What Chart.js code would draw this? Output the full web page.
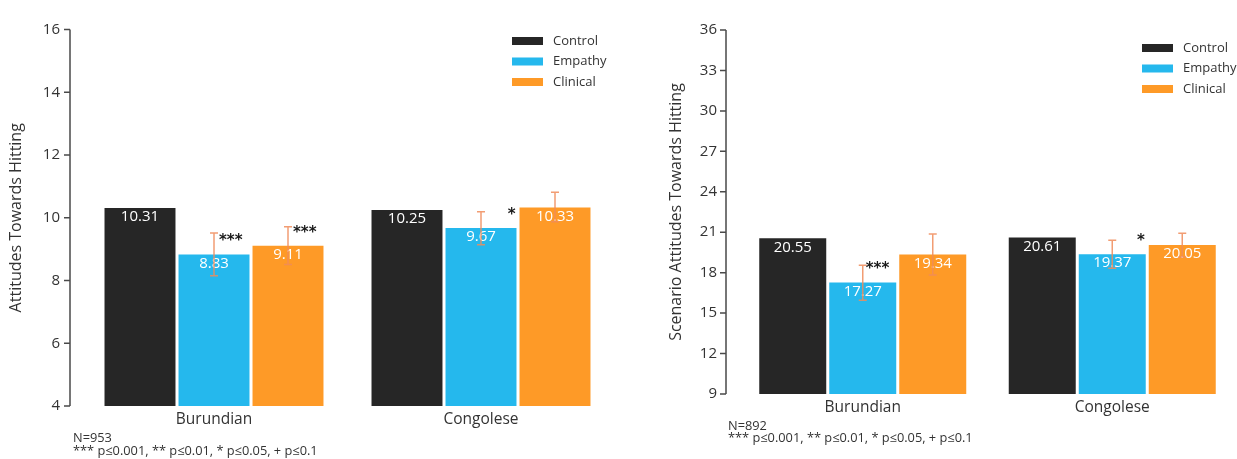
<!DOCTYPE html>
<html>
<head>
<meta charset="utf-8">
<script src="https://cdn.jsdelivr.net/npm/chart.js@4.4.1/dist/chart.umd.min.js"></script>
<style>
  html, body { margin: 0; padding: 0; background: #ffffff; }
  #wrap { position: relative; width: 1237px; height: 459px; overflow: hidden; }
  #wrap canvas { position: absolute; top: 0; }
  #attChart { left: 0; }
  #scnChart { left: 640px; }
</style>
</head>
<body>
<div id="wrap">
  <canvas id="attChart" width="640" height="459"></canvas>
  <canvas id="scnChart" width="597" height="459"></canvas>
</div>
<script>
// ---- data ----
const categories = ['Burundian', 'Congolese'];
const seriesNames = ['Control', 'Empathy', 'Clinical'];
const seriesColors = ['#262626', '#25b8ed', '#fe9a27'];

// Attitudes Towards Hitting (N=953)
const attControl = [10.31, 10.25];
const attEmpathy = [8.83, 9.67];
const attClinical = [9.11, 10.33];
const attEmpathyLow = [8.15, 9.14];
const attEmpathyHigh = [9.51, 10.19];
const attClinicalLow = [8.51, 9.87];
const attClinicalHigh = [9.71, 10.81];
const attEmpathySig = ['***', '*'];
const attClinicalSig = ['***', ''];
const attAxis = { min: 4, max: 16, step: 2 };
const attNote = ['N=953', '*** p\u22640.001, ** p\u22640.01, * p\u22640.05, + p\u22640.1'];

// Scenario Attitudes Towards Hitting (N=892)
const scnControl = [20.55, 20.61];
const scnEmpathy = [17.27, 19.37];
const scnClinical = [19.34, 20.05];
const scnEmpathyLow = [15.95, 18.32];
const scnEmpathyHigh = [18.55, 20.40];
const scnClinicalLow = [17.82, 19.17];
const scnClinicalHigh = [20.86, 20.93];
const scnEmpathySig = ['***', '*'];
const scnClinicalSig = ['', ''];
const scnAxis = { min: 9, max: 36, step: 3 };
const scnNote = ['N=892', '*** p\u22640.001, ** p\u22640.01, * p\u22640.05, + p\u22640.1'];

const FONT = '"Open Sans", Lato, sans-serif';
const STAR_FONT = 'bold 15px "DejaVu Sans", sans-serif';
const TEXT = '#333333';

// Draws the detached y-axis line, value labels, error bars, stars, legend and footnote.
const decorations = {
  id: 'decorations',
  afterDatasetsDraw(chart, args, opts) {
    const ctx = chart.ctx;
    const area = chart.chartArea;
    const y = chart.scales.y;
    ctx.save();

    // y-axis line with outward tick marks
    const ax = area.left - opts.axisGap;
    ctx.strokeStyle = '#4a4a4a';
    ctx.lineWidth = 1.5;
    ctx.beginPath();
    ctx.moveTo(ax, y.getPixelForValue(y.max));
    ctx.lineTo(ax, y.getPixelForValue(y.min));
    y.ticks.forEach(t => {
      const py = y.getPixelForValue(t.value);
      ctx.moveTo(ax - 6, py);
      ctx.lineTo(ax, py);
    });
    ctx.stroke();

    chart.data.datasets.forEach((ds, di) => {
      const meta = chart.getDatasetMeta(di);
      meta.data.forEach((bar, i) => {
        const top = bar.y;
        const right = bar.x + bar.width / 2;
        // value label inside the bar
        ctx.fillStyle = '#ffffff';
        ctx.font = '15px ' + FONT;
        ctx.textAlign = 'center';
        ctx.textBaseline = 'middle';
        ctx.fillText(ds.data[i].toFixed(2), bar.x, top + 9);
        // error bar
        if (ds.low && ds.high) {
          const yl = y.getPixelForValue(ds.low[i]);
          const yh = y.getPixelForValue(ds.high[i]);
          ctx.strokeStyle = 'rgba(240, 140, 90, 0.85)';
          ctx.lineWidth = 1.5;
          ctx.beginPath();
          ctx.moveTo(bar.x, yl); ctx.lineTo(bar.x, yh);
          ctx.moveTo(bar.x - 4, yl); ctx.lineTo(bar.x + 4, yl);
          ctx.moveTo(bar.x - 4, yh); ctx.lineTo(bar.x + 4, yh);
          ctx.stroke();
        }
        // significance stars
        if (ds.sig && ds.sig[i]) {
          const s = ds.sig[i];
          ctx.fillStyle = '#1a1a1a';
          ctx.font = STAR_FONT;
          ctx.textAlign = 'right';
          ctx.textBaseline = 'middle';
          ctx.fillText(s, right - 1 - 3 * (s.length - 1), top - 13);
        }
      });
    });

    // legend
    const lg = opts.legend;
    chart.data.datasets.forEach((ds, di) => {
      const cy = lg.y + di * lg.row;
      ctx.fillStyle = ds.backgroundColor;
      ctx.fillRect(lg.x, cy - 4, 31, 8);
      ctx.fillStyle = TEXT;
      ctx.font = '13px ' + FONT;
      ctx.textAlign = 'left';
      ctx.textBaseline = 'middle';
      ctx.fillText(ds.label, lg.x + 41, cy);
    });

    // footnote
    ctx.fillStyle = TEXT;
    ctx.font = '12.8px ' + FONT;
    ctx.textAlign = 'left';
    ctx.textBaseline = 'middle';
    opts.note.forEach((line, k) => {
      ctx.fillText(line, area.left + opts.noteDx, area.bottom + opts.noteDy + k * opts.noteGap);
    });
    ctx.restore();
  }
};

function makeChart(id, cfg) {
  const datasets = [
    { label: seriesNames[0], data: cfg.control, backgroundColor: seriesColors[0] },
    { label: seriesNames[1], data: cfg.empathy, backgroundColor: seriesColors[1],
      low: cfg.empLow, high: cfg.empHigh, sig: cfg.empSig },
    { label: seriesNames[2], data: cfg.clinical, backgroundColor: seriesColors[2],
      low: cfg.cliLow, high: cfg.cliHigh, sig: cfg.cliSig }
  ].map(d => Object.assign(d, {
    borderWidth: 0,
    categoryPercentage: cfg.catPct,
    barPercentage: cfg.barPct
  }));

  return new Chart(document.getElementById(id), {
    type: 'bar',
    data: { labels: categories, datasets },
    plugins: [decorations],
    options: {
      responsive: false,
      animation: false,
      events: [],
      layout: { padding: cfg.padding },
      plugins: {
        legend: { display: false },
        tooltip: { enabled: false },
        decorations: cfg.deco
      },
      scales: {
        x: {
          grid: { display: false, drawTicks: false },
          border: { display: false },
          ticks: { color: TEXT, font: { family: FONT, size: 15.5 }, padding: 4 },
          afterFit(scale) { scale.height = cfg.xHeight; }
        },
        y: {
          min: cfg.axis.min,
          max: cfg.axis.max,
          grid: { display: false, drawTicks: false },
          border: { display: false },
          ticks: { stepSize: cfg.axis.step, color: TEXT, font: { family: FONT, size: 15 }, padding: cfg.tickPad },
          title: {
            display: true, text: cfg.title, color: TEXT,
            font: { family: FONT, size: 16 }, padding: { top: cfg.titlePad, bottom: 0 }
          },
          afterFit(scale) { scale.width = cfg.yWidth; }
        }
      }
    }
  });
}

makeChart('attChart', {
  control: attControl, empathy: attEmpathy, clinical: attClinical,
  empLow: attEmpathyLow, empHigh: attEmpathyHigh, empSig: attEmpathySig,
  cliLow: attClinicalLow, cliHigh: attClinicalHigh, cliSig: attClinicalSig,
  axis: attAxis, title: 'Attitudes Towards Hitting',
  catPct: 0.8315, barPct: 0.959,
  padding: { top: 20, right: 25.5, left: 0, bottom: 0 },
  xHeight: 53, yWidth: 80.5, tickPad: 20.5, titlePad: 7,
  deco: { axisGap: 10.5, legend: { x: 512, y: 41, row: 20.5 }, note: attNote, noteDx: -7.5, noteDy: 32, noteGap: 13.5 }
});

makeChart('scnChart', {
  control: scnControl, empathy: scnEmpathy, clinical: scnClinical,
  empLow: scnEmpathyLow, empHigh: scnEmpathyHigh, empSig: scnEmpathySig,
  cliLow: scnClinicalLow, cliHigh: scnClinicalHigh, cliSig: scnClinicalSig,
  axis: scnAxis, title: 'Scenario Attitudes Towards Hitting',
  catPct: 0.8417, barPct: 0.957,
  padding: { top: 29, right: 0, left: 0, bottom: 0 },
  xHeight: 65, yWidth: 98, tickPad: 21, titlePad: 27,
  deco: { axisGap: 12, legend: { x: 502, y: 48, row: 20.5 }, note: scnNote, noteDx: -10, noteDy: 32, noteGap: 12 }
});
</script>
</body>
</html>
